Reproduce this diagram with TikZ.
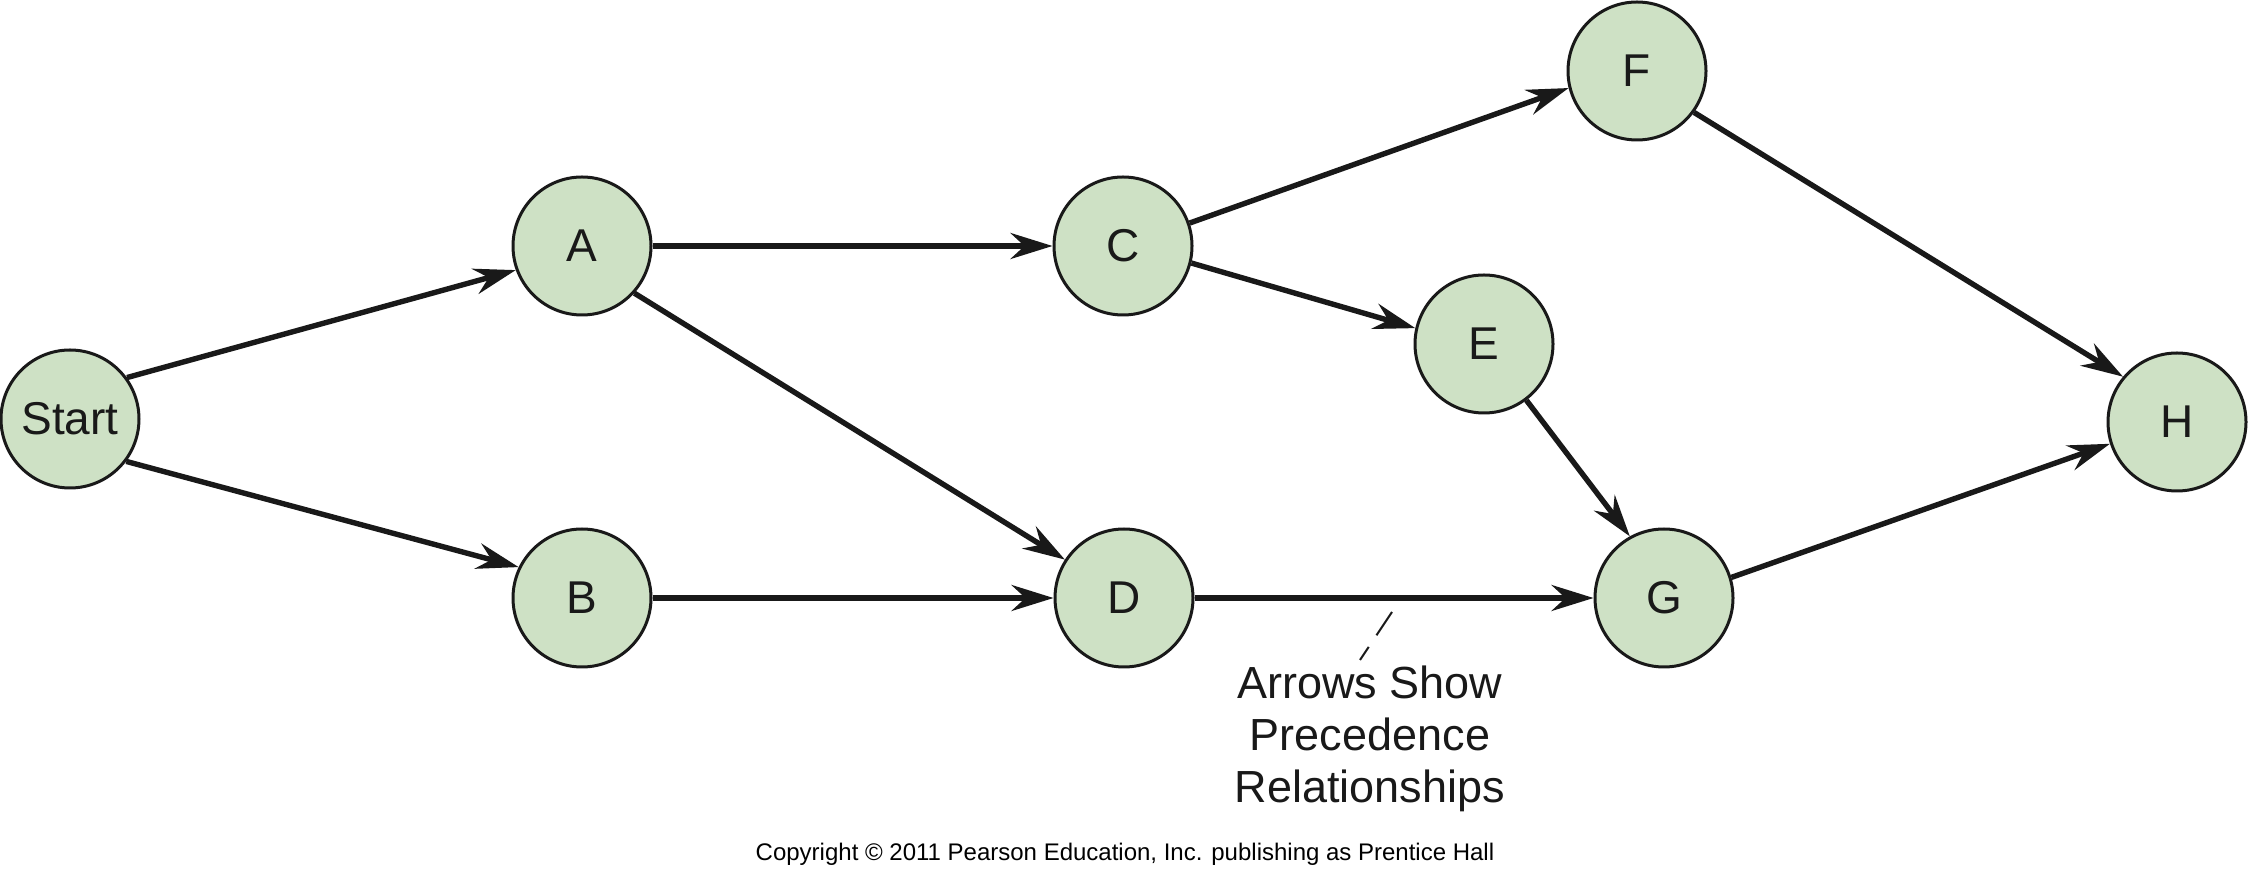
\documentclass[tikz,border=0pt]{standalone}
\usepackage{fontspec}
\setmainfont{Liberation Sans}
\usetikzlibrary{arrows.meta}
\definecolor{nodegreen}{RGB}{206,225,197}
\definecolor{inkblack}{RGB}{25,25,25}
\tikzset{
  actnode/.style={circle, draw=inkblack, line width=1.5pt, fill=nodegreen,
    minimum size=69pt, inner sep=0pt, font=\fontsize{23}{27}\selectfont, text=inkblack},
  prec/.style={line width=2.7pt, draw=inkblack,
    -{Stealth[length=21pt,width=13pt,inset=7pt]}},
  leader/.style={line width=1pt, draw=inkblack, dash pattern=on 14pt off 7pt},
  notetext/.style={align=center, font=\fontsize{22.5}{26}\selectfont, text=inkblack, inner sep=0pt},
  copytext/.style={font=\fontsize{12}{14}\selectfont, inner sep=0pt}
}
\begin{document}
\begin{tikzpicture}[x=0.5pt,y=-0.5pt]
\useasboundingbox (0,0) rectangle (2250,886);
\node[actnode] (Start) at (70,419) {Start};
\node[actnode] (A) at (582,246) {A};
\node[actnode] (B) at (582,598) {B};
\node[actnode] (C) at (1123,246) {C};
\node[actnode] (D) at (1124,598) {D};
\node[actnode] (E) at (1484,344) {E};
\node[actnode] (F) at (1637,71) {F};
\node[actnode] (G) at (1664,598) {G};
\node[actnode] (H) at (2177,422) {H};

\draw[prec] (Start.36) -- (A.200.7);
\draw[prec] (Start.-37) -- (B.154.8);
\draw[prec] (A.0) -- (C.180);
\draw[prec] (A.-42.5) -- (D.147.4);
\draw[prec] (B.0) -- (D.180);
\draw[prec] (C.19) -- (F.194.3);
\draw[prec] (C.-14) -- (E.167.4);
\draw[prec] (D.0) -- (G.180);
\draw[prec] (E.-53.2) -- (G.119);
\draw[prec] (F.-36) -- (H.140);
\draw[prec] (G.17) -- (H.198.3);

\coordinate (leadtop) at (1392,612);
\coordinate (leadbot) at (1360,660);
\draw[leader] (leadtop) -- (leadbot);
\node[notetext, anchor=base] (note) at (1370,803) {Arrows Show\\Precedence\\Relationships};

\node[copytext, anchor=base] (copy) at (1125,861) {Copyright \textcopyright{} 2011 Pearson Education, Inc. publishing as Prentice Hall};
\end{tikzpicture}
\end{document}
